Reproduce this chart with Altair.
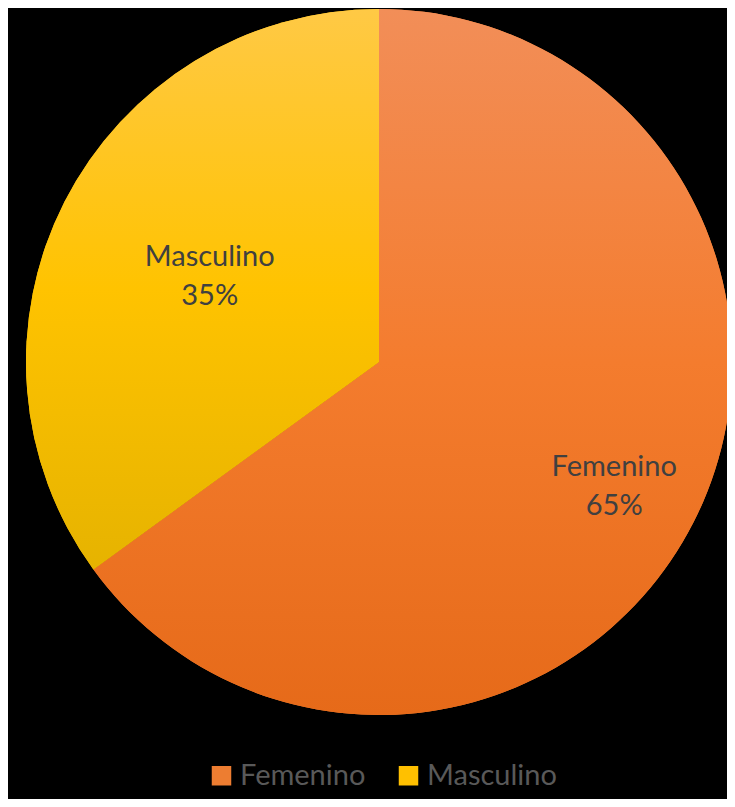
import altair as alt
import pandas as pd

genders = ["Femenino", "Masculino"]
values = [65, 35]
order = [0, 1]
colors = ["#ED7D31", "#FFC000"]

df = pd.DataFrame({"gender": genders, "value": values, "ord": order})

grad_f = {"gradient": "linear", "x1": 0, "y1": 0, "x2": 0, "y2": 1,
          "stops": [{"offset": 0, "color": "#F28E58"},
                    {"offset": 0.5, "color": "#F47C2E"},
                    {"offset": 1, "color": "#E66A19"}]}
grad_m = {"gradient": "linear", "x1": 0, "y1": 0, "x2": 0, "y2": 1,
          "stops": [{"offset": 0, "color": "#FFC945"},
                    {"offset": 0.5, "color": "#FFC300"},
                    {"offset": 1, "color": "#E6B300"}]}

CX, CY, R = 371, 354, 353
theta_scale = alt.Scale(domain=[0, 100], range=[0, 6.283185307179586])

base = (
    alt.Chart(df)
    .transform_window(cum="sum(value)", sort=[{"field": "ord"}])
    .transform_calculate(
        start="datum.cum - datum.value",
        mid="datum.cum - datum.value / 2",
        label="[datum.gender, format(datum.value, 'd') + '%']",
    )
)

legend_layer = base.mark_arc(radius=R, opacity=1).encode(
    theta=alt.Theta("start:Q", scale=theta_scale),
    theta2="cum:Q",
    x=alt.value(CX),
    y=alt.value(CY),
    color=alt.Color(
        "gender:N",
        scale=alt.Scale(domain=genders, range=colors),
        legend=alt.Legend(
            title=None,
            orient="none",
            legendX=199,
            legendY=753,
            direction="horizontal",
            symbolType="square",
            symbolSize=380,
            symbolStrokeWidth=0,
            labelFont="Lato",
            labelFontSize=29,
            labelColor="#595959",
            columnPadding=28,
            labelOffset=4,
        ),
    ),
)

def grad_arc(name, grad):
    return base.transform_filter(alt.datum.gender == name).mark_arc(
        radius=R, fill=grad
    ).encode(
        theta=alt.Theta("start:Q", scale=theta_scale),
        theta2="cum:Q",
        x=alt.value(CX),
        y=alt.value(CY),
    )

def label_layer(name, r, dy):
    return base.transform_filter(alt.datum.gender == name).mark_text(
        radius=r, font="Lato", fontSize=29, color="#404040", lineHeight=39,
        align="center", baseline="middle", dy=dy
    ).encode(
        theta=alt.Theta("mid:Q", scale=theta_scale),
        x=alt.value(CX),
        y=alt.value(CY),
        text="label:N",
    )

chart = alt.layer(
    legend_layer,
    grad_arc("Femenino", grad_f),
    grad_arc("Masculino", grad_m),
    label_layer("Femenino", 264, -15),
    label_layer("Masculino", 190, -19),
).properties(
    width=719,
    height=791,
    background="black",
    padding=0,
    autosize=alt.AutoSizeParams(type="none"),
).configure_view(stroke=None)

chart.save("out.html", embed_options={"renderer": "svg", "actions": False})
